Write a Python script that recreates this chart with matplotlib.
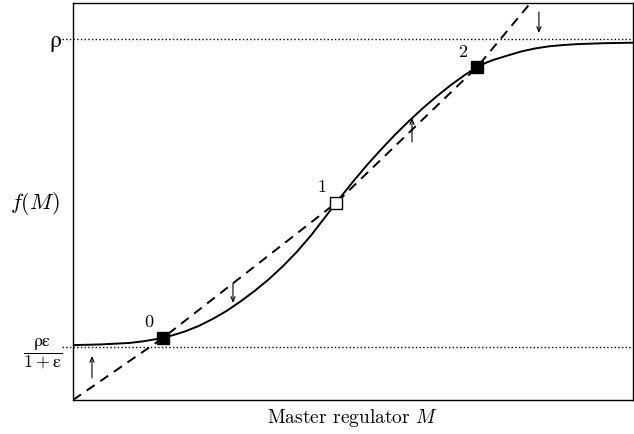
import matplotlib
matplotlib.use("Agg")
import matplotlib.pyplot as plt

plt.rcParams["mathtext.fontset"] = "cm"
plt.rcParams["font.family"] = "serif"
plt.rcParams["font.serif"] = ["cmr10", "DejaVu Serif"]
plt.rcParams["axes.formatter.use_mathtext"] = True

# Production curve f(M): sigmoidal response of the master regulator
m_curve = [0.0, 0.25, 0.5, 0.75, 1.0, 1.25, 1.5, 1.607, 1.75, 2.0, 2.25,
           2.5, 2.75, 3.0, 3.25, 3.5, 3.75, 4.0, 4.25, 4.5, 4.696, 5.0,
           5.25, 5.5, 5.75, 6.0, 6.25, 6.5, 6.75, 7.0, 7.1, 7.214, 7.3,
           7.4, 7.5, 7.75, 8.0, 8.25, 8.5, 8.75, 9.0, 9.5, 10.0]
f_curve = [0.152, 0.153, 0.154, 0.156, 0.158, 0.1625, 0.169, 0.172, 0.178,
           0.190, 0.2055, 0.225, 0.2475, 0.274, 0.303, 0.335, 0.371, 0.411,
           0.456, 0.506, 0.546, 0.605, 0.651, 0.694, 0.735, 0.773, 0.809,
           0.842, 0.873, 0.901, 0.911, 0.922, 0.929, 0.936, 0.942, 0.954,
           0.9655, 0.974, 0.980, 0.9835, 0.986, 0.9887, 0.990]

# Degradation line (dashed)
m_decay = [0.000, 1.607, 4.696, 7.214, 8.180]
f_decay = [0.000, 0.172, 0.546, 0.922, 1.102]

# Fixed points: stable (filled) and unstable (open)
fp_m = [1.607, 4.696, 7.214]
fp_f = [0.172, 0.546, 0.922]
fp_labels = ["0", "1", "2"]
fp_stable = [True, False, True]

# Levels marked on the vertical axis
level_low = 0.147
level_high = 1.0
level_labels = [r"$\dfrac{\mathrm{ρε}}{1+\mathrm{ε}}$", r"$\mathrm{ρ}$"]
level_sizes = [13, 17]

# Flow arrows: x position, start and end heights
arrow_m = [0.339, 2.857, 6.054, 8.320]
arrow_from = [0.061, 0.324, 0.715, 1.075]
arrow_to = [0.122, 0.269, 0.781, 1.017]

fig = plt.figure(figsize=(6.34, 4.34), dpi=100)
ax = fig.add_axes([73 / 634, 34 / 434, 560 / 634, 397 / 434])
ax.set_xlim(0, 10)
ax.set_ylim(0, 1.1)

for lvl in (level_low, level_high):
    ax.plot([-0.2, 10], [lvl, lvl], ls=":", color="black", lw=1.0,
            clip_on=False, zorder=1)

ax.plot(m_curve, f_curve, color="black", lw=1.4, zorder=3)
ax.plot(m_decay, f_decay, color="black", lw=1.4, ls=(0, (5, 3.5)), zorder=3)

for m, f, lab, st in zip(fp_m, fp_f, fp_labels, fp_stable):
    ax.plot(m, f, marker="s", ms=9, mec="black", mew=1.0,
            mfc="black" if st else "white", zorder=5)
    ax.annotate(lab, (m, f), xytext=(-10, 11), textcoords="offset points",
                ha="center", va="center", fontsize=13)

for m, y0, y1 in zip(arrow_m, arrow_from, arrow_to):
    ax.annotate("", xy=(m, y1), xytext=(m, y0),
                arrowprops=dict(arrowstyle="->,head_length=0.35,head_width=0.15",
                                color="black", lw=0.8, shrinkA=0, shrinkB=0))

ax.set_xticks([])
ax.set_yticks([level_low, level_high])
ax.set_yticklabels(level_labels)
for lbl, size in zip(ax.get_yticklabels(), level_sizes):
    lbl.set_fontsize(size)
ax.tick_params(axis="y", length=0, pad=8)

ax.set_xlabel(r"Master regulator $M$", fontsize=14, labelpad=5)
ax.text(-0.068, 0.495, r"$f(M)$", transform=ax.transAxes, ha="center",
        va="center", fontsize=16)

for sp in ax.spines.values():
    sp.set_linewidth(1.0)

fig.savefig("out.png", dpi=100)
